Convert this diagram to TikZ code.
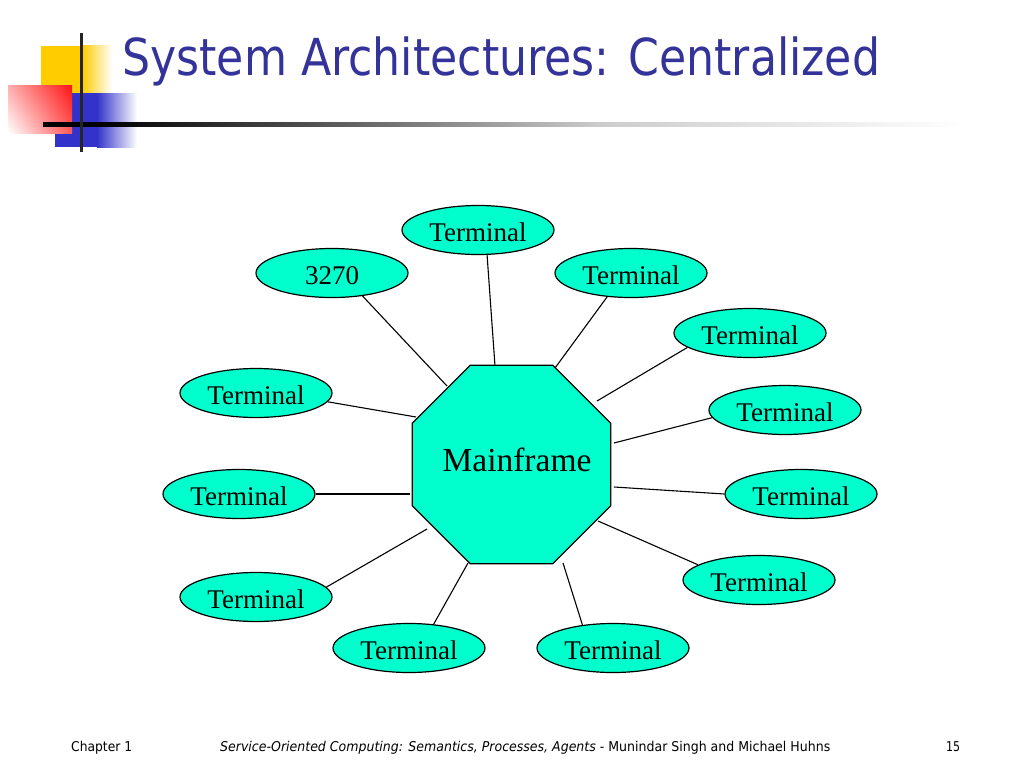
\documentclass[tikz,border=0pt]{standalone}
\usepackage{fontspec}
\usepackage{graphicx}
\setmainfont{Liberation Serif}
\newfontfamily\tahoma{DejaVu Sans}
\usetikzlibrary{shapes.geometric,shadings}
\definecolor{aqua}{RGB}{0,255,204}
\definecolor{titleblue}{RGB}{51,51,153}
\definecolor{decoyellow}{RGB}{255,204,0}
\definecolor{decoblue}{RGB}{51,51,204}
\definecolor{decored}{RGB}{255,20,20}
\tikzset{
  term/.style={ellipse, draw=black, fill=aqua, line width=1.2pt,
    minimum width=152pt, minimum height=49pt, inner sep=0pt,
    text height=23pt, text depth=0pt,
    font=\fontsize{27}{32}\selectfont},
  octo/.style={regular polygon, regular polygon sides=8, draw=black, fill=aqua,
    line width=1.2pt, minimum size=215pt, inner sep=0pt},
  link/.style={draw=black, line width=1.1pt},
  foot/.style={anchor=base west, inner sep=0pt, font=\tahoma\fontsize{13.5}{16}\selectfont}
}
\begin{document}
\begin{tikzpicture}[x=1pt,y=-1pt]
\fill[white] (0,0) rectangle (1024,768);
\useasboundingbox (0,0) rectangle (1024,768);

% decoration top left
\fill[decoyellow] (41,46) rectangle (82,93);
\shade[left color=decoyellow, right color=white] (82,46) rectangle (112,93);
\fill[decoblue] (55,93) rectangle (97,147);
\shade[left color=decoblue, right color=white] (97,93) rectangle (137,147);
\shade[upper right=decored, upper left=decored!35, lower left=white, lower right=decored!70] (8,85) rectangle (72,133);
\fill[black] (43,122) rectangle (100,126.5);
\shade[left color=black, right color=black!70] (100,122) rectangle (300,126.5);
\shade[left color=black!70, right color=black!20] (300,122) rectangle (600,126.5);
\shade[left color=black!20, right color=white] (600,122) rectangle (965,126.5);
\fill[black!85] (79.5,33) rectangle (82.8,152);

% title
\node[anchor=base west, inner sep=0pt, text=titleblue] (title) at (122,75)
  {\resizebox{758pt}{\height}{\tahoma\fontsize{51}{60}\selectfont System Architectures: Centralized}};

% mainframe
\node[octo] (mf) at (511.5,464.5) {};
\node[anchor=base, inner sep=0pt, font=\fontsize{33.5}{40}\selectfont] (mft) at (517,471) {Mainframe};

% terminals
\node[term] (t3270) at (332,273) {3270};
\node[term] (ttop) at (478,230) {Terminal};
\node[term] (tr1) at (631,273) {Terminal};
\node[term] (tr2) at (750,333) {Terminal};
\node[term] (tr3) at (785,410) {Terminal};
\node[term] (tr4) at (801,494) {Terminal};
\node[term] (tr5) at (759,580) {Terminal};
\node[term] (tb2) at (613,648) {Terminal};
\node[term] (tb1) at (409,648) {Terminal};
\node[term] (tl3) at (256,597) {Terminal};
\node[term] (tl2) at (239,494) {Terminal};
\node[term] (tl1) at (256,393) {Terminal};

% connector ends near the mainframe
\coordinate (e1) at (447,386);
\coordinate (e2) at (495,366);
\coordinate (e3) at (555,368);
\coordinate (e4) at (597,401);
\coordinate (e5) at (614,443);
\coordinate (e6) at (614,487);
\coordinate (e7) at (598,521);
\coordinate (e8) at (563,563);
\coordinate (e9) at (468,563);
\coordinate (e10) at (427,529);
\coordinate (e11) at (410,494);
\coordinate (e12) at (416,417);

\draw[link] (t3270.-37) -- (e1);
\draw[link] (ttop.-70) -- (e2);
\draw[link] (tr1.-135) -- (e3);
\draw[link] (tr2.-167) -- (e4);
\draw[link] (tr3.-174) -- (e5);
\draw[link] (tr4.180) -- (e6);
\draw[link] (tr5.166) -- (e7);
\draw[link] (tb2.143) -- (e8);
\draw[link] (tb1.44) -- (e9);
\draw[link] (tl3.8) -- (e10);
\draw[link] (tl2.0) -- (e11);
\draw[link] (tl1.-7) -- (e12);

% footer
\node[foot] (chap) at (71,751) {\resizebox{61pt}{\height}{Chapter 1}};
\node[foot] (cite) at (220,751) {\resizebox{610pt}{\height}{\itshape Service-Oriented Computing: Semantics, Processes, Agents\upshape{} - Munindar Singh and Michael Huhns}};
\node[foot] (page) at (946,751) {\resizebox{14pt}{\height}{15}};
\end{tikzpicture}
\end{document}
